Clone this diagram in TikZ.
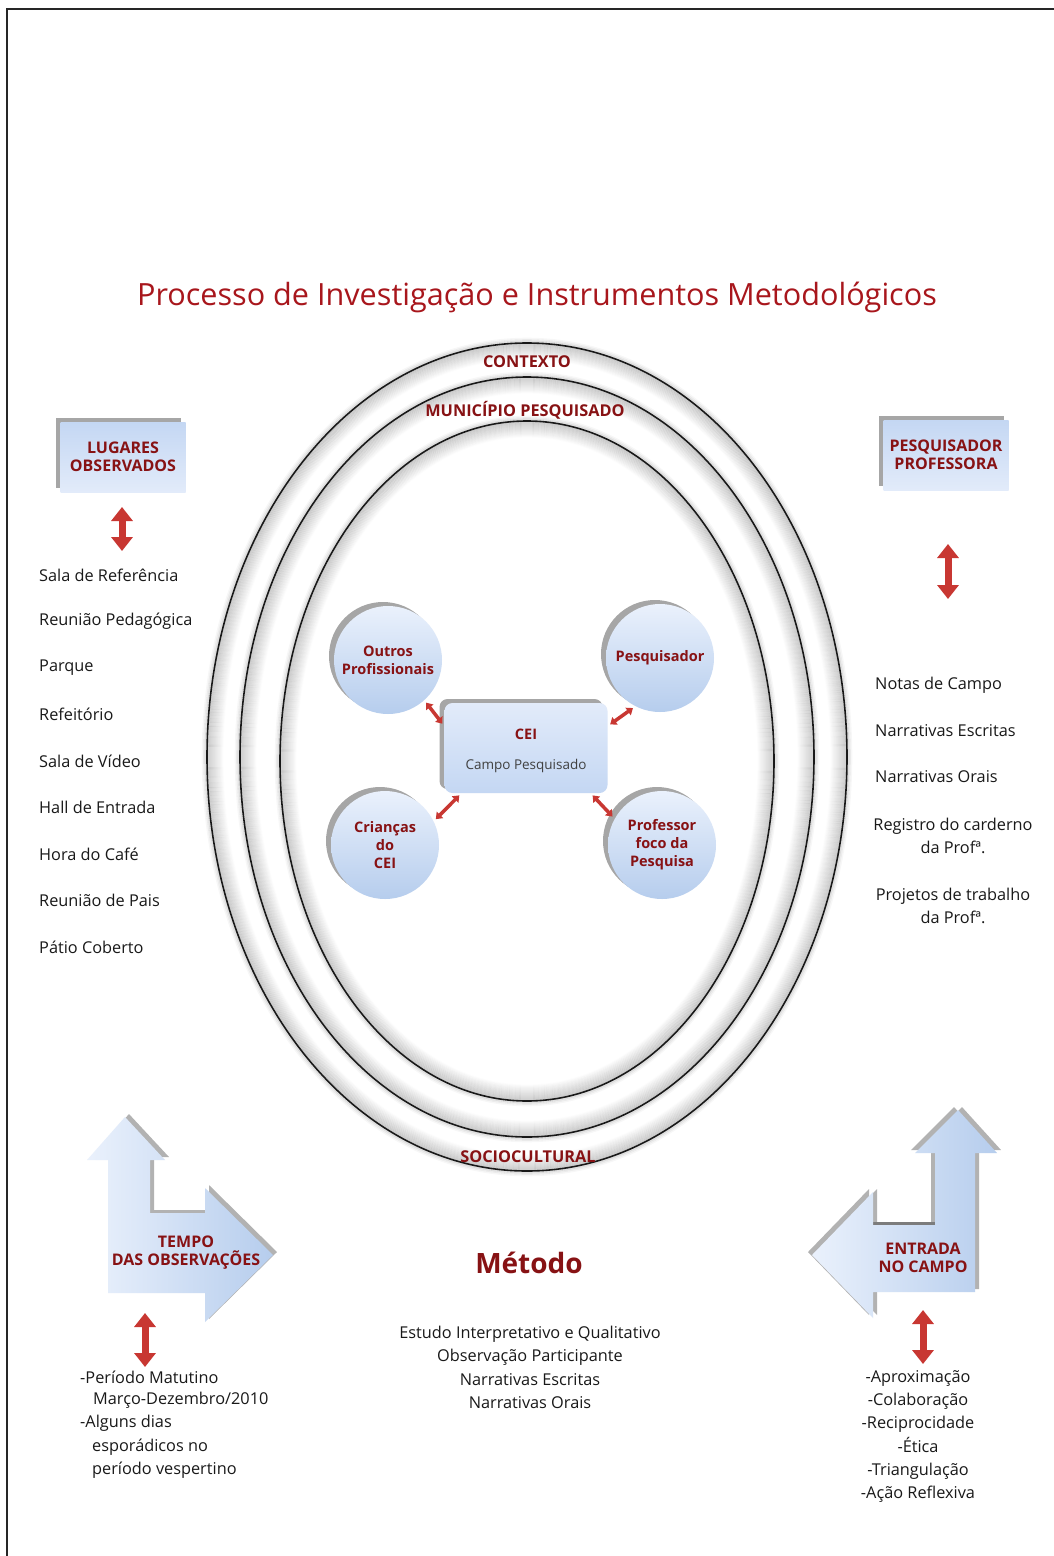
\documentclass[tikz,border=0pt]{standalone}
\usepackage{fontspec}
\setmainfont{Open Sans}
\usetikzlibrary{shadows,arrows.meta}
\definecolor{ttl}{RGB}{168,22,28}
\definecolor{lbl}{RGB}{135,18,20}
\definecolor{redarr}{RGB}{200,55,50}
\definecolor{blueA}{RGB}{234,241,252}
\definecolor{blueB}{RGB}{182,205,237}
\definecolor{boxA}{RGB}{196,215,243}
\definecolor{boxB}{RGB}{226,235,250}
\tikzset{
  listtxt/.style={font=\fontsize{16.3}{19}\selectfont, anchor=west, inner sep=0pt, text=black!90},
  ctrtxt/.style={font=\fontsize{16.3}{23.3}\selectfont, inner sep=0pt, align=center, text=black!90},
  lbltxt/.style={font=\fontsize{14.5}{22}\selectfont\bfseries, text=lbl, align=center},
  boxtxt/.style={font=\fontsize{16}{22}\selectfont\bfseries, text=lbl, align=center},
  shad/.style={drop shadow={shadow xshift=-5pt, shadow yshift=4pt, fill=black, opacity=0.35}},
  bubble/.style={circle, minimum size=108pt, inner sep=0pt, shading=axis, top color=blueA, bottom color=blueB, shad, lbltxt},
  labelbox/.style={rectangle, minimum width=125pt, minimum height=70pt, inner sep=0pt, shading=axis, top color=boxA, bottom color=boxB, shad, boxtxt},
  ceibox/.style={rectangle, rounded corners=8pt, minimum width=163pt, minimum height=90pt, inner sep=0pt, shading=axis, top color=boxB, bottom color=boxA, shad, align=center},
  bentarrow/.style={shading=axis, left color=blueA, right color=blueB, shading angle=90, drop shadow={shadow xshift=4pt, shadow yshift=3pt, fill=black, opacity=0.3}},
  bigred/.style={draw=redarr, line width=7pt, {Triangle[width=21pt,length=14pt]}-{Triangle[width=21pt,length=14pt]}},
  smallred/.style={draw=redarr, line width=3.5pt, {Triangle[width=9pt,length=6pt]}-{Triangle[width=9pt,length=6pt]}, shorten <=3pt, shorten >=3pt},
  bandtxt/.style={font=\fontsize{16.3}{19}\selectfont\bfseries, text=lbl, inner sep=0pt},
}
\begin{document}
\begin{tikzpicture}[x=1pt,y=-1pt]
\useasboundingbox (0,0) rectangle (1054,1556);
\fill[white] (0,0) rectangle (1054,1556);
% page frame
\draw[line width=2pt, black!85] (7,1556) -- (7,9) -- (1054,9);
% title
\node[font=\fontsize{30.6}{34}\selectfont, text=ttl, inner sep=0pt] (title) at (537,297) {Processo de Investigação e Instrumentos Metodológicos};
% ellipse bands
\foreach \rx/\ry/\cy in {320/414/757, 287/380/757, 247/340/761}{
  \foreach \d [evaluate=\d as \o using {0.16*(1-\d/17)}] in {1,...,16}{
    \draw[black, opacity=\o, line width=1.3pt] (527,\cy) ellipse [x radius={\rx-\d}, y radius={\ry-\d}];
  }
  \foreach \d/\o in {1.5/0.12,3/0.07,4.5/0.03}{
    \draw[black, opacity=\o, line width=1.6pt] (527,\cy) ellipse [x radius={\rx+\d}, y radius={\ry+\d}];
  }
  \draw[line width=1.6pt, black!90] (527,\cy) ellipse [x radius=\rx, y radius=\ry];
}
\node[bandtxt] (ctx) at (527,362) {CONTEXTO};
\node[bandtxt] (mun) at (525,410) {MUNICÍPIO PESQUISADO};
\node[bandtxt] (soc) at (528,1157) {SOCIOCULTURAL};
% center cluster
\node[ceibox] (cei) at (526,748) {};
\node[lbltxt, inner sep=0pt] (ceit) at (526,734) {CEI};
\node[font=\fontsize{13.5}{16}\selectfont, text=black!75, inner sep=0pt] (ceis) at (526,766) {Campo Pesquisado};
\node[bubble] (outros) at (388,660) {Outros\\[-4pt]Profissionais};
\node[bubble] (pesq) at (660,658) {Pesquisador};
\node[bubble] (crian) at (385,845) {Crianças\\[-4pt]do\\[-4pt]CEI};
\node[bubble] (prof) at (662,845) {Professor\\[-4pt]foco da\\[-4pt]Pesquisa};
\draw[smallred] (outros.-48) -- (cei.165);
\draw[smallred] (pesq.-117) -- (cei.15);
\draw[smallred] (cei.-145.3) -- (crian.26.6);
\draw[smallred] (cei.-35.5) -- (prof.151);
% left column
\node[labelbox] (lug) at (123,457) {LUGARES\\[-4pt]OBSERVADOS};
\coordinate (lugA) at (122,507);
\coordinate (lugB) at (122,551);
\draw[bigred] (lugA) -- (lugB);
\node[listtxt] (l1) at (39,575) {Sala de Referência};
\node[listtxt] (l2) at (39,621) {Reunião Pedagógica};
\node[listtxt] (l3) at (39,668) {Parque};
\node[listtxt] (l4) at (39,714) {Refeitório};
\node[listtxt] (l5) at (39,761) {Sala de Vídeo};
\node[listtxt] (l6) at (39,807) {Hall de Entrada};
\node[listtxt] (l7) at (39,854) {Hora do Café};
\node[listtxt] (l8) at (39,900) {Reunião de Pais};
\node[listtxt] (l9) at (39,947) {Pátio Coberto};
% right column
\node[labelbox] (pp) at (946,455) {PESQUISADOR\\[-4pt]PROFESSORA};
\coordinate (ppA) at (948,544);
\coordinate (ppB) at (948,599);
\draw[bigred] (ppA) -- (ppB);
\node[listtxt] (r1) at (875,685) {Notas de Campo};
\node[listtxt] (r2) at (875,731) {Narrativas Escritas};
\node[listtxt] (r3) at (875,777) {Narrativas Orais};
\node[ctrtxt] (r4) at (953,836) {Registro do carderno\\da Profª.};
\node[ctrtxt] (r5) at (953,906) {Projetos de trabalho\\da Profª.};
% bottom left bent arrow
\path[bentarrow] (125,1117) -- (165,1160) -- (150,1160) -- (150,1213) -- (205,1213) -- (205,1188) -- (273,1255) -- (205,1322) -- (205,1293) -- (108,1293) -- (108,1160) -- (87,1160) -- cycle;
\node[boxtxt] (tempo) at (186,1253) {TEMPO\\[-4pt]DAS OBSERVAÇÕES};
\coordinate (tA) at (145,1313);
\coordinate (tB) at (145,1367);
\draw[bigred] (tA) -- (tB);
\node[listtxt] (t1) at (80,1377) {-Período Matutino};
\node[listtxt] (t2) at (93,1400) {Março-Dezembro/2010};
\node[listtxt] (t3) at (80,1423) {-Alguns dias};
\node[listtxt] (t4) at (92,1447) {esporádicos no};
\node[listtxt] (t5) at (92,1470) {período vespertino};
% bottom right bent arrow
\path[bentarrow, drop shadow={shadow xshift=-4pt, shadow yshift=3pt, fill=black, opacity=0.3}] (958,1110) -- (997,1153) -- (975,1153) -- (975,1292) -- (873,1292) -- (873,1318) -- (812,1255) -- (873,1192) -- (873,1225) -- (935,1225) -- (935,1153) -- (915,1153) -- cycle;
\node[boxtxt] (entr) at (923,1258) {ENTRADA\\[-4pt]NO CAMPO};
\coordinate (eA) at (923,1310);
\coordinate (eB) at (923,1364);
\draw[bigred] (eA) -- (eB);
\node[ctrtxt, anchor=north] (elist) at (918,1370) {-Aproximação\\-Colaboração\\-Reciprocidade\\-Ética\\-Triangulação\\-Ação Reflexiva};
% method
\node[font=\fontsize{28}{32}\selectfont\bfseries, text=lbl, inner sep=0pt] (met) at (529,1263) {Método};
\node[ctrtxt, anchor=north] (mlist) at (530,1326) {Estudo Interpretativo e Qualitativo\\Observação Participante\\Narrativas Escritas\\Narrativas Orais};
\end{tikzpicture}
\end{document}
